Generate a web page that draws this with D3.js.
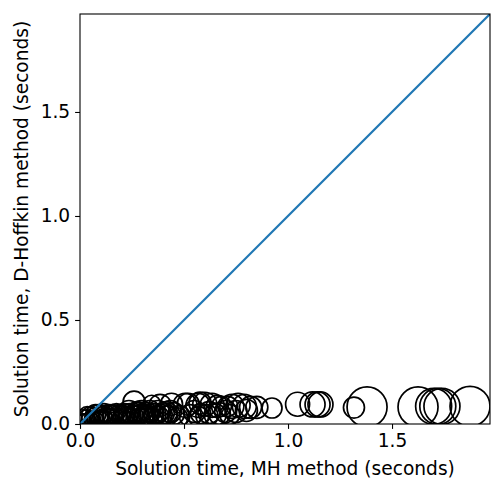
<!DOCTYPE html>
<html>
<head>
<meta charset="utf-8">
<script src="https://cdn.jsdelivr.net/npm/d3@7"></script>
<style>
  body { margin: 0; background: #fff; }
  svg text { font-family: "DejaVu Sans", sans-serif; }
</style>
</head>
<body>
<svg id="chart" width="496" height="482"></svg>
<script>
// solution time of each instance, MH method (x) vs D-Hoffkin method (y), plus problem size
const mhTime = [
  0.01, 0.02, 0.03, 0.04, 0.05, 0.06, 0.07, 0.08, 0.09, 0.10,
  0.11, 0.12, 0.13, 0.14, 0.15, 0.16, 0.17, 0.18, 0.19, 0.20,
  0.21, 0.22, 0.23, 0.24, 0.25, 0.27, 0.28, 0.29, 0.30, 0.31,
  0.32, 0.33, 0.35, 0.36, 0.38, 0.40, 0.42,
  0.015, 0.035, 0.055, 0.075, 0.095, 0.115, 0.135, 0.155, 0.175, 0.195,
  0.215, 0.235, 0.255, 0.275, 0.295, 0.315, 0.335, 0.355, 0.375, 0.395,
  0.415, 0.435, 0.47, 0.53, 0.57, 0.61, 0.67, 0.72,
  0.26, 0.345, 0.385, 0.44, 0.505, 0.52, 0.567, 0.577, 0.60, 0.635, 0.66, 0.68,
  0.45, 0.48, 0.55, 0.58, 0.62, 0.65, 0.70,
  0.71, 0.73, 0.76, 0.79, 0.82, 0.85, 0.75, 0.80,
  0.923,
  1.046, 1.118, 1.142, 1.156,
  1.317, 1.38, 1.625, 1.70, 1.72, 1.74, 1.875
];
const dhTime = [
  0.020, 0.015, 0.030, 0.020, 0.040, 0.025, 0.035, 0.020, 0.045, 0.030,
  0.040, 0.025, 0.035, 0.045, 0.030, 0.040, 0.020, 0.035, 0.045, 0.030,
  0.040, 0.025, 0.035, 0.045, 0.030, 0.040, 0.050, 0.030, 0.045, 0.035,
  0.050, 0.040, 0.030, 0.045, 0.035, 0.050, 0.040,
  0.030, 0.040, 0.020, 0.045, 0.025, 0.050, 0.030, 0.045, 0.055, 0.025,
  0.050, 0.060, 0.040, 0.055, 0.060, 0.045, 0.060, 0.050, 0.060, 0.045,
  0.055, 0.060, 0.030, 0.040, 0.035, 0.040, 0.050, 0.045,
  0.105, 0.095, 0.090, 0.095, 0.090, 0.095, 0.090, 0.100, 0.095, 0.090, 0.085, 0.085,
  0.050, 0.040, 0.060, 0.050, 0.055, 0.045, 0.060,
  0.085, 0.085, 0.090, 0.085, 0.080, 0.080, 0.060, 0.065,
  0.077,
  0.095, 0.094, 0.094, 0.094,
  0.079, 0.082, 0.082, 0.085, 0.085, 0.085, 0.085
];
const problemSize = [
  36, 49, 64, 49, 81, 64, 81, 49, 100, 64,
  81, 64, 81, 100, 81, 100, 64, 81, 100, 81,
  100, 64, 100, 121, 81, 100, 121, 100, 121, 100,
  121, 100, 100, 121, 100, 121, 100,
  64, 81, 49, 100, 64, 100, 81, 100, 81, 64,
  100, 121, 100, 121, 121, 100, 121, 100, 121, 100,
  121, 121, 100, 121, 100, 121, 121, 100,
  121, 81, 121, 121, 144, 121, 144, 121, 144, 144, 121, 100,
  121, 100, 121, 100, 121, 121, 121,
  100, 144, 144, 144, 121, 121, 121, 121,
  100,
  144, 156, 156, 156,
  110, 400, 400, 324, 324, 324, 400
];
const xTicks = [0, 0.5, 1.0, 1.5];
const yTicks = [0, 0.5, 1.0, 1.5];

const points = mhTime.map((x, i) => ({ x: x, y: dhTime[i], s: problemSize[i] }));

const svg = d3.select("#chart");
const margin = { top: 14, right: 6, bottom: 58, left: 80 };
const width = 496 - margin.left - margin.right;
const height = 482 - margin.top - margin.bottom;
const axMax = 1.971;
const fontSize = "18.6px";

const x = d3.scaleLinear().domain([0, axMax]).range([0, width]);
const y = d3.scaleLinear().domain([0, axMax]).range([height, 0]);
const r = d3.scaleSqrt().domain([0, d3.max(problemSize)]).range([0, 20]);

const g = svg.append("g").attr("transform", `translate(${margin.left},${margin.top})`);

g.append("defs").append("clipPath").attr("id", "plotClip")
    .append("rect").attr("width", width).attr("height", height);

const plot = g.append("g").attr("clip-path", "url(#plotClip)");

plot.selectAll(".pt")
    .data(points)
    .enter().append("circle")
    .attr("class", "pt")
    .attr("cx", d => x(d.x))
    .attr("cy", d => y(d.y))
    .attr("r", d => r(d.s))
    .attr("fill", "none")
    .attr("stroke", "#000")
    .attr("stroke-width", 1.7);

// y = x reference line
plot.append("line")
    .attr("x1", x(0)).attr("y1", y(0))
    .attr("x2", x(2)).attr("y2", y(2))
    .attr("stroke", "#1f77b4")
    .attr("stroke-width", 2.2);

const fmt = d3.format(".1f");

const xAxis = g.append("g")
    .attr("transform", `translate(0,${height})`)
    .call(d3.axisBottom(x).tickValues(xTicks).tickFormat(fmt).tickSize(4.9).tickPadding(4.5));
const yAxis = g.append("g")
    .call(d3.axisLeft(y).tickValues(yTicks).tickFormat(fmt).tickSize(4.9).tickPadding(4.9));

[xAxis, yAxis].forEach(a => {
    a.select(".domain").remove();
    a.selectAll("line").attr("stroke", "#000").attr("stroke-width", 1.1);
    a.selectAll("text").attr("font-size", fontSize).attr("fill", "#000")
        .attr("font-family", "DejaVu Sans, sans-serif");
});

g.append("rect")
    .attr("width", width).attr("height", height)
    .attr("fill", "none").attr("stroke", "#000").attr("stroke-width", 1.1);

svg.append("text")
    .attr("x", margin.left + width / 2)
    .attr("y", 475)
    .attr("text-anchor", "middle")
    .attr("font-size", fontSize)
    .text("Solution time, MH method (seconds)");

svg.append("text")
    .attr("transform", `translate(28,${margin.top + height / 2}) rotate(-90)`)
    .attr("text-anchor", "middle")
    .attr("font-size", fontSize)
    .text("Solution time, D-Hoffkin method (seconds)");
</script>
</body>
</html>
